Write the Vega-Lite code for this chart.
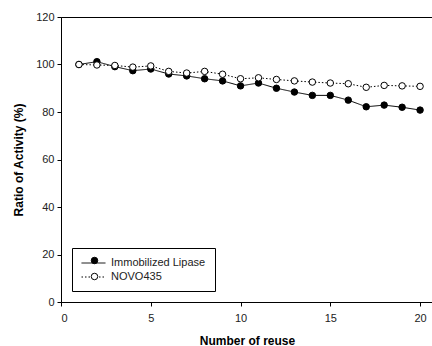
{
  "$schema": "https://vega.github.io/schema/vega-lite/v6.json",
  "width": 372,
  "height": 285,
  "autosize": {"type": "none"},
  "padding": {"left": 61, "top": 17, "right": 0, "bottom": 44},
  "background": "white",
  "config": {
    "font": "Liberation Sans",
    "view": {"stroke": "black", "strokeWidth": 1},
    "axis": {
      "domainColor": "black",
      "tickColor": "black",
      "tickSize": 4,
      "labelFont": "Liberation Sans",
      "labelFontSize": 11,
      "labelColor": "#222",
      "titleFont": "Liberation Sans",
      "titleFontSize": 12,
      "titleFontWeight": "bold",
      "titleColor": "black",
      "grid": false
    }
  },
  "data": {
    "values": [
      {"reuse": 1, "series": "Immobilized Lipase", "value": 100},
      {"reuse": 2, "series": "Immobilized Lipase", "value": 101.2},
      {"reuse": 3, "series": "Immobilized Lipase", "value": 99.1},
      {"reuse": 4, "series": "Immobilized Lipase", "value": 97.4},
      {"reuse": 5, "series": "Immobilized Lipase", "value": 98.1},
      {"reuse": 6, "series": "Immobilized Lipase", "value": 96},
      {"reuse": 7, "series": "Immobilized Lipase", "value": 95.2},
      {"reuse": 8, "series": "Immobilized Lipase", "value": 94},
      {"reuse": 9, "series": "Immobilized Lipase", "value": 93.1},
      {"reuse": 10, "series": "Immobilized Lipase", "value": 91},
      {"reuse": 11, "series": "Immobilized Lipase", "value": 92.2},
      {"reuse": 12, "series": "Immobilized Lipase", "value": 90},
      {"reuse": 13, "series": "Immobilized Lipase", "value": 88.4},
      {"reuse": 14, "series": "Immobilized Lipase", "value": 87},
      {"reuse": 15, "series": "Immobilized Lipase", "value": 87},
      {"reuse": 16, "series": "Immobilized Lipase", "value": 85},
      {"reuse": 17, "series": "Immobilized Lipase", "value": 82.2},
      {"reuse": 18, "series": "Immobilized Lipase", "value": 82.9},
      {"reuse": 19, "series": "Immobilized Lipase", "value": 82},
      {"reuse": 20, "series": "Immobilized Lipase", "value": 80.8},
      {"reuse": 1, "series": "NOVO435", "value": 100},
      {"reuse": 2, "series": "NOVO435", "value": 99.8},
      {"reuse": 3, "series": "NOVO435", "value": 99.6},
      {"reuse": 4, "series": "NOVO435", "value": 98.9},
      {"reuse": 5, "series": "NOVO435", "value": 99.4},
      {"reuse": 6, "series": "NOVO435", "value": 97.1},
      {"reuse": 7, "series": "NOVO435", "value": 96.4},
      {"reuse": 8, "series": "NOVO435", "value": 97.1},
      {"reuse": 9, "series": "NOVO435", "value": 95.9},
      {"reuse": 10, "series": "NOVO435", "value": 94},
      {"reuse": 11, "series": "NOVO435", "value": 94.4},
      {"reuse": 12, "series": "NOVO435", "value": 93.7},
      {"reuse": 13, "series": "NOVO435", "value": 93.1},
      {"reuse": 14, "series": "NOVO435", "value": 92.6},
      {"reuse": 15, "series": "NOVO435", "value": 92.2},
      {"reuse": 16, "series": "NOVO435", "value": 91.9},
      {"reuse": 17, "series": "NOVO435", "value": 90.4},
      {"reuse": 18, "series": "NOVO435", "value": 91.2},
      {"reuse": 19, "series": "NOVO435", "value": 91},
      {"reuse": 20, "series": "NOVO435", "value": 90.8}
    ]
  },
  "encoding": {
    "x": {
      "field": "reuse", "type": "quantitative",
      "scale": {"domain": [0, 20.72], "nice": false},
      "axis": {"values": [0, 5, 10, 15, 20], "title": "Number of reuse", "labelPadding": 6, "titlePadding": 12}
    },
    "y": {
      "field": "value", "type": "quantitative",
      "scale": {"domain": [0, 120], "nice": false},
      "axis": {"values": [0, 20, 40, 60, 80, 100, 120], "title": "Ratio of Activity (%)", "labelPadding": 3, "titlePadding": 10}
    }
  },
  "layer": [
    {
      "mark": {"type": "line", "color": "black", "strokeWidth": 1},
      "encoding": {
        "strokeDash": {
          "field": "series", "type": "nominal",
          "scale": {"domain": ["Immobilized Lipase", "NOVO435"], "range": [[1, 0], [1.5, 2]]},
          "legend": {
            "title": null, "orient": "bottom-left", "offset": 11,
            "symbolType": "M-1,0H3.36", "symbolSize": 121, "symbolStrokeColor": "black", "symbolStrokeWidth": 1,
            "labelFont": "Liberation Sans", "labelFontSize": 11, "labelColor": "#222",
            "labelOffset": 18, "rowPadding": 3,
            "strokeColor": "black", "padding": 9, "fillColor": "white"
          }
        }
      }
    },
    {
      "mark": {"type": "point", "shape": "circle", "stroke": "black", "strokeWidth": 1, "size": 42, "opacity": 1, "filled": true},
      "encoding": {
        "fill": {
          "field": "series", "type": "nominal",
          "scale": {"domain": ["Immobilized Lipase", "NOVO435"], "range": ["black", "white"]},
          "legend": {
            "title": null, "orient": "none", "legendX": 20, "legendY": 230,
            "symbolType": "circle", "symbolSize": 42, "symbolStrokeColor": "black", "symbolStrokeWidth": 1,
            "labelExpr": "''", "labelFontSize": 11,
            "labelOffset": 0, "rowPadding": 4, "padding": 8, "symbolOpacity": 1
          }
        }
      }
    }
  ]
}
